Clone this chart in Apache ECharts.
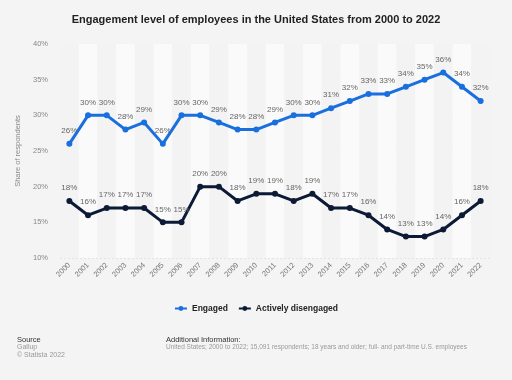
<!DOCTYPE html>
<html><head><meta charset="utf-8">
<script src="https://cdn.jsdelivr.net/npm/echarts@6/dist/echarts.min.js"></script>
<style>html,body{margin:0;padding:0;background:#f4f4f4;}#c{width:512px;height:380px;}</style>
</head><body><div id="c"></div>
<script>
const years = ['2000','2001','2002','2003','2004','2005','2006','2007','2008','2009','2010','2011','2012','2013','2014','2015','2016','2017','2018','2019','2020','2021','2022'];
const engaged = [26,30,30,28,29,26,30,30,29,28,28,29,30,30,31,32,33,33,34,35,36,34,32];
const disengaged = [18,16,17,17,17,15,15,20,20,18,19,19,18,19,17,17,16,14,13,13,14,16,18];
const yTicks = [10,15,20,25,30,35,40];

const chart = echarts.init(document.getElementById('c'));
const lbl = {show:true, position:'top', distance:6, formatter: p => p.value + '%', color:'#666', fontSize:8, fontFamily:'Liberation Sans'};
chart.setOption({
  backgroundColor:'#f4f4f4',
  textStyle:{fontFamily:'Liberation Sans'},
  title:{text:'Engagement level of employees in the United States from 2000 to 2022', left:'center', top:9,
    textStyle:{fontSize:11, fontWeight:'bold', color:'#222'}},
  grid:{left:60, right:22, top:44, bottom:122},
  legend:{bottom:62, left:'center', itemWidth:12, itemHeight:6, itemGap:10,
    textStyle:{fontSize:8.5, fontWeight:'bold', color:'#222'},
    data:['Engaged','Actively disengaged']},
  xAxis:{type:'category', data:years, boundaryGap:true,
    axisLine:{show:false}, axisTick:{show:false},
    axisLabel:{rotate:45, fontSize:7.5, color:'#777', interval:0, margin:6},
    splitArea:{show:true, interval:0, areaStyle:{color:['#f3f3f3','#fafafa']}}},
  yAxis:{type:'value', min:yTicks[0], max:yTicks[yTicks.length-1], interval:5,
    name:'Share of respondents', nameLocation:'middle', nameGap:36, nameRotate:90,
    nameTextStyle:{fontSize:7.5, color:'#888'},
    axisLabel:{formatter:'{value}%', fontSize:7.5, color:'#888', margin:12},
    axisLine:{show:false}, axisTick:{show:false},
    splitLine:{lineStyle:{color:'#dedede', type:[2,2], width:0.8}}},
  series:[
    {name:'Engaged', type:'line', data:engaged, color:'#1a6fdf', symbol:'circle', symbolSize:6,
      lineStyle:{width:3}, label:lbl},
    {name:'Actively disengaged', type:'line', data:disengaged, color:'#0c1a36', symbol:'circle', symbolSize:6,
      lineStyle:{width:3}, label:lbl}
  ],
  graphic:[
    {type:'text', left:17, top:336, style:{text:'Source', fontSize:7.5, fill:'#333', fontFamily:'Liberation Sans'}},
    {type:'text', left:17, top:344, style:{text:'Gallup', fontSize:7, fill:'#999', fontFamily:'Liberation Sans'}},
    {type:'text', left:17, top:352, style:{text:'© Statista 2022', fontSize:7, fill:'#999', fontFamily:'Liberation Sans'}},
    {type:'text', left:166, top:336, style:{text:'Additional Information:', fontSize:7.5, fill:'#333', fontFamily:'Liberation Sans'}},
    {type:'text', left:166, top:344, style:{text:'United States; 2000 to 2022; 15,091 respondents; 18 years and older; full- and part-time U.S. employees', fontSize:6.5, fill:'#999', fontFamily:'Liberation Sans'}}
  ]
});
</script></body></html>
